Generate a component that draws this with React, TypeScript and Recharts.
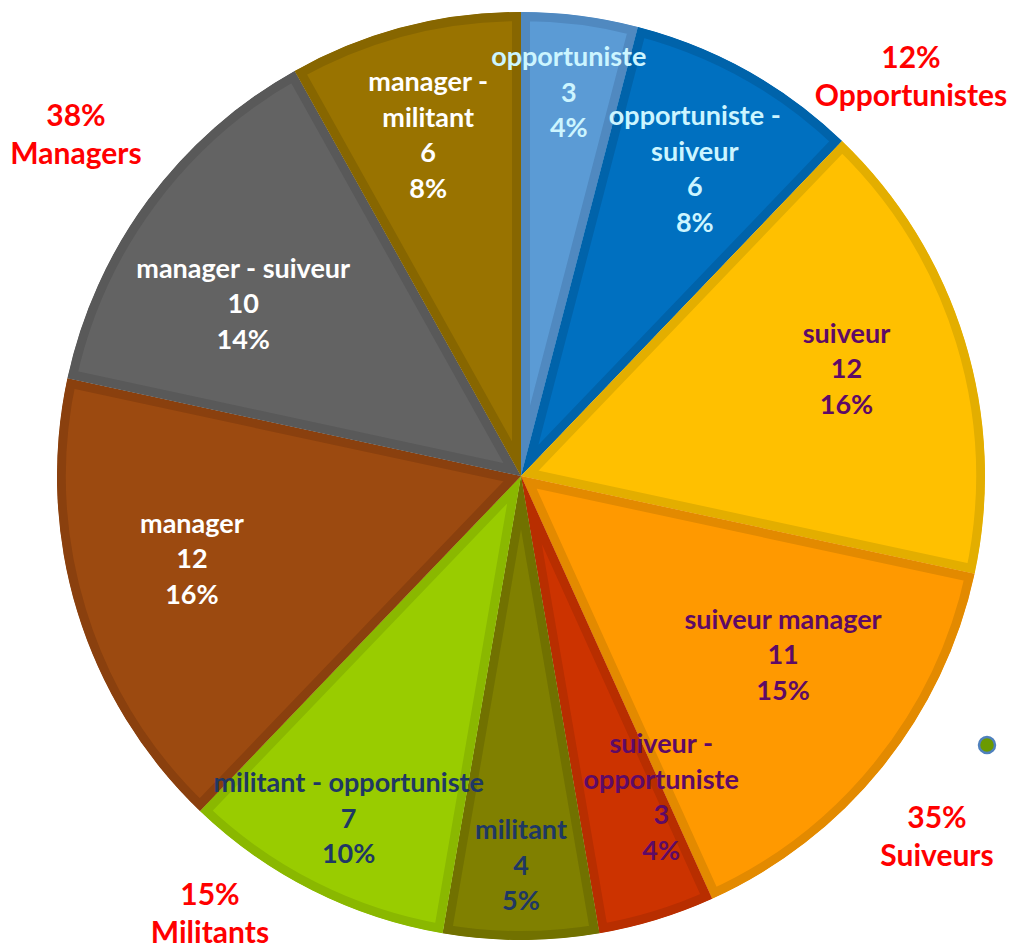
import React from 'react';
import { PieChart, Pie, Cell, Sector, Customized } from 'recharts';

// categories clockwise from 12 o'clock (\n = line break in the slice label)
const categories = [
    'opportuniste',
    'opportuniste -\nsuiveur',
    'suiveur',
    'suiveur manager',
    'suiveur -\nopportuniste',
    'militant',
    'militant - opportuniste',
    'manager',
    'manager - suiveur',
    'manager -\nmilitant',
];
const counts = [3, 6, 12, 11, 3, 4, 7, 12, 10, 6];

// group totals shown in red around the pie
const groupNames = ['Opportunistes', 'Suiveurs', 'Militants', 'Managers'];
const groupOf = [0, 0, 1, 1, 1, 2, 2, 3, 3, 3];

// styles
const fills = ['#5B9BD5', '#0070C0', '#FFC000', '#FF9900', '#CC3300', '#808000', '#99CC00', '#9C4A10', '#636363', '#997300'];
const strokes = ['#5089C0', '#0063AA', '#E3AE00', '#E38A00', '#B82E00', '#717100', '#8AB800', '#8A400E', '#595959', '#876600'];
const textColors = ['#CCF5FF', '#CCF5FF', '#5E0A66', '#5E0A66', '#5E0A66', '#1F3864', '#1F3864', '#FFFFFF', '#FFFFFF', '#FFFFFF'];
// label placement: fraction of radius, small angular nudge (deg, clockwise)
const labelRadius = [0.834, 0.761, 0.739, 0.683, 0.754, 0.838, 0.825, 0.731, 0.705, 0.763];
const labelNudge = [-0.2, 0.3, -1.3, -4.7, -6.6, 0, 0, 3, -4.6, -0.6];
const groupLabelPos = [
    { x: 911, y: 56 },
    { x: 937, y: 816 },
    { x: 210, y: 893 },
    { x: 76, y: 114 },
];

const total = counts.reduce((a, b) => a + b, 0);
const data = categories.map((name, i) => ({ name, value: counts[i] }));

// percentages rounded so they add up to 100 (largest remainder)
const roundTo100 = (vals: number[]) => {
    const raw = vals.map((v) => (v / total) * 100);
    const out = raw.map(Math.floor);
    const left = 100 - out.reduce((a, b) => a + b, 0);
    const order = raw.map((r, i) => ({ i, f: r - Math.floor(r) })).sort((a, b) => b.f - a.f);
    for (let k = 0; k < left; k++) out[order[k].i] += 1;
    return out;
};
const pcts = roundTo100(counts);
const groupPct = groupNames.map((_, g) =>
    Math.round((counts.filter((_, i) => groupOf[i] === g).reduce((a, b) => a + b, 0) / total) * 100)
);

const FONT = 'Lato, "Open Sans", sans-serif';
const RAD = Math.PI / 180;
const CX = 521;
const CY = 476;
const R = 464;

// sector with its border kept inside the slice
const InsetSector = (props: any) => {
    const id = `clip-${Math.round(props.startAngle * 100)}`;
    return (
        <g>
            <defs>
                <clipPath id={id}>
                    <Sector {...props} stroke="none" />
                </clipPath>
            </defs>
            <Sector {...props} strokeWidth={18} clipPath={`url(#${id})`} />
        </g>
    );
};

const renderLabel = (props: any) => {
    const { cx, cy, midAngle, outerRadius, index, value } = props;
    const angle = (midAngle - labelNudge[index]) * RAD;
    const r = outerRadius * labelRadius[index];
    const x = cx + r * Math.cos(-angle);
    const y = cy + r * Math.sin(-angle) - 1;
    const lines = [...categories[index].split('\n'), String(value), `${pcts[index]}%`];
    const lh = 35.5;
    const y0 = y - ((lines.length - 1) * lh) / 2;
    return (
        <text
            x={x}
            y={y0}
            fill={textColors[index]}
            textAnchor="middle"
            dominantBaseline="central"
            style={{ fontFamily: FONT, fontSize: 27, fontWeight: 700 }}
        >
            {lines.map((l, k) => (
                <tspan key={k} x={x} y={y0 + k * lh}>
                    {l}
                </tspan>
            ))}
        </text>
    );
};

const GroupLabels = () => (
    <g>
        {groupNames.map((g, i) => (
            <text
                key={g}
                x={groupLabelPos[i].x}
                y={groupLabelPos[i].y}
                fill="#FF0000"
                textAnchor="middle"
                dominantBaseline="central"
                style={{ fontFamily: FONT, fontSize: 30, fontWeight: 700 }}
            >
                <tspan x={groupLabelPos[i].x} y={groupLabelPos[i].y}>{`${groupPct[i]}%`}</tspan>
                <tspan x={groupLabelPos[i].x} y={groupLabelPos[i].y + 38}>{g}</tspan>
            </text>
        ))}
        <circle cx={987} cy={745} r={8} fill="#6B9A00" stroke="#4F81BD" strokeWidth={2.5} />
    </g>
);

export default function App() {
    return (
        <div style={{ position: 'absolute', left: 0, top: 0, width: 1011, height: 948, background: '#fff' }}>
            <PieChart width={1011} height={948} margin={{ top: 0, right: 0, bottom: 0, left: 0 }}>
                <Pie
                    data={data}
                    dataKey="value"
                    nameKey="name"
                    cx={CX}
                    cy={CY}
                    outerRadius={R}
                    startAngle={90}
                    endAngle={-270}
                    shape={InsetSector}
                    label={renderLabel}
                    labelLine={false}
                    isAnimationActive={false}
                >
                    {data.map((d, i) => (
                        <Cell key={d.name} fill={fills[i]} stroke={strokes[i]} />
                    ))}
                </Pie>
                <Customized component={GroupLabels} />
            </PieChart>
        </div>
    );
}
